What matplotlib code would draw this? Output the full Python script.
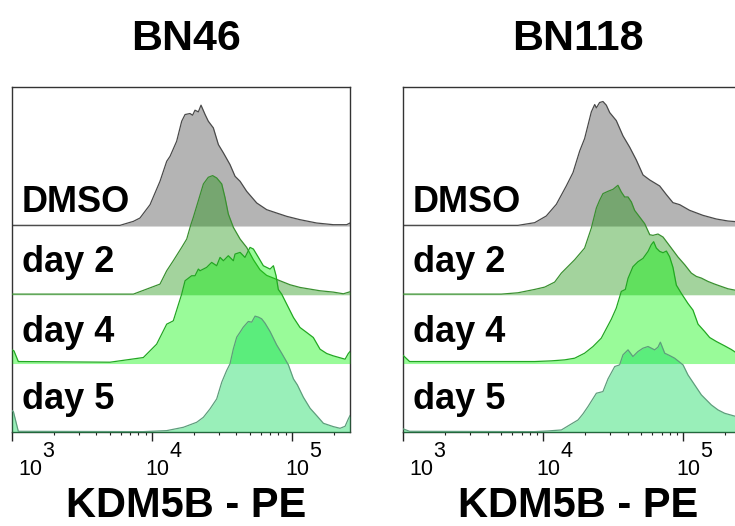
import numpy as np
import matplotlib
matplotlib.use("Agg")
import matplotlib.pyplot as plt
import matplotlib.transforms as mtransforms

plt.rcParams["font.family"] = ["Liberation Sans", "DejaVu Sans"]

# x = log10(KDM5B-PE intensity), y = event count per bin
samples = ["DMSO", "day 2", "day 4", "day 5"]
panel_titles = ["BN46", "BN118"]
x_label = "KDM5B - PE"

# ---- BN46 ----
bn46_dmso_x = [3.000, 3.771, 3.867, 3.914, 3.986, 4.057, 4.105, 4.129, 4.176, 4.212,
               4.236, 4.271, 4.290, 4.307, 4.331, 4.350, 4.379, 4.402, 4.438, 4.474,
               4.510, 4.557, 4.593, 4.629, 4.676, 4.748, 4.819, 4.890, 4.962, 5.057,
               5.176, 5.295, 5.390, 5.414]
bn46_dmso_y = [2, 2, 14, 24, 64, 134, 194, 209, 254, 314,
               334, 337, 332, 347, 342, 362, 334, 314, 294, 244,
               219, 184, 149, 134, 104, 69, 49, 39, 29, 19,
               9, 4, 4, 9]

bn46_day2_x = [3.000, 3.867, 3.962, 4.057, 4.105, 4.152, 4.212, 4.248, 4.276, 4.295,
               4.331, 4.367, 4.402, 4.433, 4.462, 4.498, 4.521, 4.545, 4.581, 4.629,
               4.676, 4.724, 4.771, 4.819, 4.867, 4.914, 4.986, 5.057, 5.200, 5.295,
               5.367, 5.414]
bn46_day2_y = [2, 2, 17, 32, 72, 102, 142, 167, 208, 232,
               282, 332, 352, 357, 350, 332, 292, 242, 202, 167,
               142, 105, 75, 58, 50, 42, 30, 22, 12, 8,
               3, 9]

bn46_day4_x = [3.000, 3.014, 3.045, 3.700, 3.819, 3.938, 4.033, 4.105, 4.129, 4.152,
               4.212, 4.236, 4.283, 4.307, 4.331, 4.343, 4.390, 4.426, 4.462, 4.486,
               4.510, 4.545, 4.581, 4.593, 4.629, 4.664, 4.700, 4.724, 4.760, 4.795,
               4.819, 4.843, 4.867, 4.886, 4.902, 4.926, 4.962, 5.010, 5.057, 5.105,
               5.152, 5.200, 5.248, 5.295, 5.379, 5.402, 5.414]
bn46_day4_y = [41, 38, 6, 4, 11, 18, 58, 118, 123, 128,
               208, 248, 263, 263, 283, 278, 288, 303, 293, 318,
               308, 323, 308, 328, 333, 318, 348, 343, 318, 293,
               288, 283, 293, 263, 222, 208, 178, 138, 108, 93,
               78, 43, 30, 23, 13, 30, 36]

bn46_day5_x = [3.000, 3.010, 3.045, 3.938, 4.105, 4.224, 4.319, 4.367, 4.414, 4.462,
               4.498, 4.533, 4.557, 4.581, 4.605, 4.629, 4.652, 4.688, 4.712, 4.736,
               4.760, 4.783, 4.807, 4.843, 4.890, 4.926, 4.974, 5.010, 5.038, 5.081,
               5.129, 5.176, 5.224, 5.295, 5.343, 5.379, 5.402, 5.414]
bn46_day5_y = [65, 62, 3, 2, 5, 15, 30, 45, 70, 100,
               150, 185, 205, 250, 285, 300, 315, 332, 330, 348,
               345, 340, 327, 302, 262, 237, 202, 160, 142, 105,
               72, 50, 27, 17, 12, 18, 40, 50]

# ---- BN118 ----
bn118_dmso_x = [3.000, 3.819, 3.938, 4.021, 4.093, 4.164, 4.212, 4.260, 4.295, 4.319,
                4.343, 4.367, 4.379, 4.402, 4.426, 4.450, 4.474, 4.521, 4.569, 4.617,
                4.664, 4.712, 4.760, 4.831, 4.879, 4.926, 4.974, 5.045, 5.140, 5.236,
                5.319, 5.379, 5.426]
bn118_dmso_y = [2, 2, 10, 30, 65, 120, 160, 225, 262, 302,
                342, 364, 354, 370, 373, 362, 340, 316, 270, 236,
                198, 153, 138, 120, 94, 70, 64, 47, 32, 21,
                15, 13, 11]

bn118_day2_x = [3.000, 3.700, 3.819, 3.938, 4.010, 4.081, 4.129, 4.224, 4.295, 4.343,
                4.379, 4.402, 4.426, 4.462, 4.498, 4.533, 4.557, 4.581, 4.605, 4.629,
                4.652, 4.688, 4.724, 4.760, 4.783, 4.819, 4.855, 4.914, 4.962, 5.010,
                5.057, 5.093, 5.129, 5.176, 5.224, 5.271, 5.319, 5.379, 5.426]
bn118_day2_y = [2, 2, 6, 16, 23, 38, 65, 105, 140, 200,
                260, 283, 303, 310, 316, 328, 308, 293, 293, 278,
                253, 233, 213, 180, 178, 182, 173, 140, 113, 90,
                65, 55, 50, 40, 32, 25, 18, 13, 11]

bn118_day4_x = [3.000, 3.045, 3.938, 4.057, 4.152, 4.224, 4.295, 4.355, 4.414, 4.486,
                4.521, 4.557, 4.586, 4.605, 4.640, 4.676, 4.712, 4.748, 4.771, 4.788,
                4.807, 4.831, 4.855, 4.879, 4.902, 4.926, 4.950, 4.986, 5.033, 5.069,
                5.105, 5.152, 5.188, 5.236, 5.295, 5.343, 5.379, 5.426]
bn118_day4_y = [24, 6, 6, 8, 11, 16, 31, 51, 76, 133,
                166, 216, 222, 255, 290, 305, 315, 336, 356, 365,
                346, 336, 332, 337, 320, 288, 235, 210, 180, 160,
                118, 96, 78, 66, 53, 42, 32, 26]

bn118_day5_x = [3.000, 3.045, 3.938, 4.033, 4.129, 4.200, 4.248, 4.283, 4.319, 4.379,
                4.426, 4.462, 4.510, 4.545, 4.569, 4.605, 4.640, 4.676, 4.712, 4.748,
                4.795, 4.819, 4.836, 4.867, 4.902, 4.938, 4.998, 5.033, 5.081, 5.129,
                5.200, 5.248, 5.295, 5.379, 5.426]
bn118_day5_y = [10, 3, 2, 4, 7, 25, 37, 55, 77, 117,
                122, 160, 197, 202, 232, 247, 227, 242, 252, 257,
                247, 255, 270, 237, 230, 222, 202, 172, 142, 112,
                82, 67, 57, 47, 45]

decades = [3, 4, 5]

panels = [
    [(bn46_dmso_x, bn46_dmso_y), (bn46_day2_x, bn46_day2_y),
     (bn46_day4_x, bn46_day4_y), (bn46_day5_x, bn46_day5_y)],
    [(bn118_dmso_x, bn118_dmso_y), (bn118_day2_x, bn118_day2_y),
     (bn118_day4_x, bn118_day4_y), (bn118_day5_x, bn118_day5_y)],
]

# styling
fill_colors = ["#b4b4b4", (25 / 255, 145 / 255, 10 / 255), (0, 245 / 255, 0), (0, 217 / 255, 82 / 255)]
fill_alpha = [1.0, 0.4, 0.4, 0.4]
line_colors = ["#4a4a4a", "#3a9030", "#22a822", "#5e9e7c"]
row_step = 206
label_y = [0.636, 0.463, 0.260, 0.067]

W, H = 735, 526
fig = plt.figure(figsize=(W / 100, H / 100), dpi=100)

ax_left_px = [12, 403.3]
ax_w_px, ax_bot_px, ax_h_px = 338, 432.3, 345.8
title_x_px = [186, 578]

for p, curves in enumerate(panels):
    ax = fig.add_axes([ax_left_px[p] / W, (H - ax_bot_px) / H, ax_w_px / W, ax_h_px / H])
    n = len(curves)
    for i, (xs, ys) in enumerate(curves):
        base = (n - 1 - i) * row_step
        xs = np.array(xs)
        top = base + np.array(ys)
        ax.fill_between(xs, base, top, color=fill_colors[i], alpha=fill_alpha[i], lw=0, zorder=2 + i)
        ax.plot(xs, top, color=line_colors[i], lw=0.9, zorder=2 + i)
        ax.text(0.029, label_y[i], samples[i], transform=ax.transAxes, fontsize=26,
                fontweight="bold", ha="left", va="baseline", zorder=10)

    ax.set_xlim(3.0, 5.414)
    ax.set_ylim(0, 1036)
    ax.set_yticks([])
    ax.set_xticks(decades)
    minors = [np.log10(k * 10 ** d) for d in decades for k in range(2, 10)]
    ax.set_xticks([m for m in minors if m < 5.414], minor=True)
    ax.tick_params(axis="x", which="major", length=6.5, width=1, direction="out",
                   labelbottom=False, color="#222222")
    ax.tick_params(axis="x", which="minor", length=2.5, width=0.8, direction="out",
                   color="#222222")
    for s in ax.spines.values():
        s.set_linewidth(1.0)
        s.set_color("#333333")

    # tick labels: "10" with a raised exponent the same size
    blend = mtransforms.blended_transform_factory(ax.transData, ax.transAxes)
    for d in decades:
        dx = 6 if d == decades[0] else -7
        t10 = mtransforms.offset_copy(blend, fig=fig, x=dx, y=-42.7, units="dots")
        texp = mtransforms.offset_copy(blend, fig=fig, x=dx + 24, y=-24.7, units="dots")
        ax.text(d, 0, "10", transform=t10, fontsize=15.5, ha="left", va="baseline")
        ax.text(d, 0, str(d), transform=texp, fontsize=15.5, ha="left", va="baseline")

    fig.text(title_x_px[p] / W, 1 - 50 / H, panel_titles[p], fontsize=31,
             fontweight="bold", ha="center", va="baseline")
    fig.text(title_x_px[p] / W, 0.0, x_label, fontsize=30,
             fontweight="bold", ha="center", va="bottom")

fig.savefig("out.png", dpi=100)
